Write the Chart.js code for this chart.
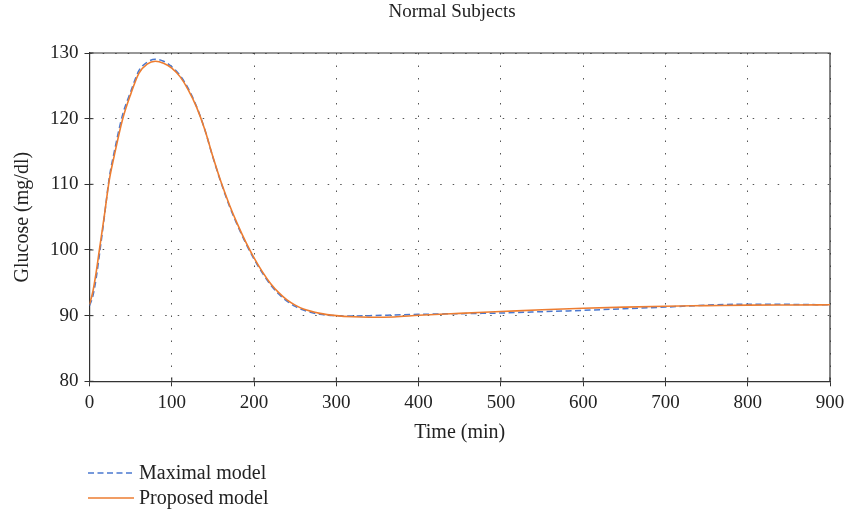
<!DOCTYPE html>
<html>
<head>
<meta charset="utf-8">
<script src="https://cdn.jsdelivr.net/npm/chart.js@4.4.1/dist/chart.umd.min.js"></script>
<style>
  body { margin: 0; background: #fff; }
  #wrap { position: relative; width: 851px; height: 513px; }
  #legend { position: absolute; left: 88px; top: 460px; font-family: "Liberation Serif", serif; font-size: 20px; color: #222; }
  #legend .row { display: flex; align-items: center; height: 25px; }
  #legend svg { margin-right: 5px; }
</style>
</head>
<body>
<div id="wrap">
  <canvas id="chart" width="851" height="513"></canvas>
  <div id="legend">
    <div class="row"><svg width="46" height="6"><line x1="0" y1="3" x2="46" y2="3" stroke="#4a78cf" stroke-width="1.5" stroke-dasharray="6 3.5"/></svg>Maximal model</div>
    <div class="row"><svg width="46" height="6"><line x1="0" y1="3" x2="46" y2="3" stroke="#ed7d31" stroke-width="1.5"/></svg>Proposed model</div>
  </div>
</div>
<script>
const TITLE = "Normal Subjects";
const X_TITLE = "Time (min)";
const Y_TITLE = "Glucose (mg/dl)";

// time points (min)
const times = [0, 4, 8, 12, 18, 24, 30, 40, 50, 60, 70, 80, 90, 100, 110, 120, 130, 140, 150, 160,
  170, 180, 190, 200, 210, 220, 230, 240, 250, 260, 280, 300, 320, 340, 370, 400, 450, 500, 550,
  600, 650, 700, 750, 800, 850, 900];

const maximalModel = [91.5, 92.9, 95.6, 99.2, 105.0, 111.0, 114.9, 120.5, 124.1, 127.3, 128.6, 129.05,
  128.75, 127.9, 126.6, 124.6, 121.9, 118.4, 114.1, 110.2, 106.7, 103.7, 101.0, 98.6, 96.5, 94.7,
  93.3, 92.2, 91.4, 90.85, 90.2, 90.0, 89.95, 90.0, 90.1, 90.2, 90.3, 90.4, 90.6, 90.8, 91.05,
  91.3, 91.6, 91.75, 91.72, 91.65];

const proposedModel = [91.7, 93.6, 96.5, 100.0, 105.2, 110.6, 114.3, 119.8, 123.7, 126.9, 128.3, 128.75,
  128.45, 127.7, 126.4, 124.4, 121.8, 118.4, 114.2, 110.3, 106.9, 103.9, 101.2, 98.8, 96.7, 94.9,
  93.5, 92.4, 91.6, 91.0, 90.35, 90.0, 89.82, 89.76, 89.8, 90.05, 90.35, 90.62, 90.9, 91.13, 91.3,
  91.44, 91.52, 91.6, 91.63, 91.65];

const xTicks = [0, 100, 200, 300, 400, 500, 600, 700, 800, 900];
const yTicks = [80, 90, 100, 110, 120, 130];

const FONT = "'Liberation Serif', 'Times New Roman', serif";
const AXIS_COLOR = "#333";

const toPoints = (vals) => vals.map((v, i) => ({ x: times[i], y: v }));

// top/right frame, inward tick marks and the title
const framePlugin = {
  id: "frame",
  beforeDatasetsDraw(chart) {
    const { ctx, chartArea: a, scales } = chart;
    ctx.save();
    ctx.strokeStyle = AXIS_COLOR;
    ctx.lineWidth = 1.2;
    ctx.beginPath();
    ctx.moveTo(a.left, a.top);
    ctx.lineTo(a.right, a.top);
    ctx.lineTo(a.right, a.bottom);
    ctx.stroke();
    ctx.lineWidth = 1;
    ctx.beginPath();
    xTicks.forEach((t) => {
      const px = scales.x.getPixelForValue(t);
      ctx.moveTo(px, a.bottom);
      ctx.lineTo(px, a.bottom - 4);
    });
    yTicks.forEach((t) => {
      const py = scales.y.getPixelForValue(t);
      ctx.moveTo(a.left, py);
      ctx.lineTo(a.left + 4, py);
    });
    ctx.stroke();
    ctx.restore();
  },
  afterDraw(chart) {
    const { ctx } = chart;
    ctx.save();
    ctx.fillStyle = "#222";
    ctx.font = `19px ${FONT}`;
    ctx.textAlign = "center";
    ctx.textBaseline = "middle";
    ctx.fillText(TITLE, 452, 12);
    ctx.restore();
  },
};

const gridOpts = {
  color: "#555",
  lineWidth: 1,
  tickLength: 5,
  tickColor: AXIS_COLOR,
  tickBorderDash: [],
  tickWidth: 1,
};
const borderOpts = { display: true, color: AXIS_COLOR, width: 1.2, dash: [1.5, 11] };

new Chart(document.getElementById("chart"), {
  type: "line",
  data: {
    datasets: [
      {
        label: "Maximal model",
        data: toPoints(maximalModel),
        borderColor: "#4a78cf",
        borderWidth: 1.5,
        borderDash: [6, 3.5],
        pointRadius: 0,
        cubicInterpolationMode: "monotone",
        order: 1,
      },
      {
        label: "Proposed model",
        data: toPoints(proposedModel),
        borderColor: "#ed7d31",
        borderWidth: 1.6,
        pointRadius: 0,
        cubicInterpolationMode: "monotone",
        order: 0,
      },
    ],
  },
  options: {
    responsive: false,
    animation: false,
    layout: { padding: { left: 0, right: 21, top: 53, bottom: 0 } },
    plugins: {
      legend: { display: false },
      title: { display: false },
      tooltip: { enabled: false },
    },
    scales: {
      x: {
        type: "linear",
        min: 0,
        max: 900,
        afterFit: (s) => { s.height = 131.7; },
        afterBuildTicks: (s) => { s.ticks = xTicks.map((v) => ({ value: v })); },
        ticks: { color: "#222", font: { family: FONT, size: 19 }, padding: 5, maxRotation: 0 },
        grid: gridOpts,
        border: borderOpts,
        title: {
          display: true,
          text: X_TITLE,
          color: "#222",
          font: { family: FONT, size: 20 },
          padding: { top: 0, bottom: 68 },
        },
      },
      y: {
        min: 80,
        max: 130,
        afterFit: (s) => { s.width = 89.5; },
        afterBuildTicks: (s) => { s.ticks = yTicks.map((v) => ({ value: v })); },
        ticks: { color: "#222", font: { family: FONT, size: 19 }, padding: 6 },
        grid: gridOpts,
        border: borderOpts,
        title: {
          display: true,
          text: Y_TITLE,
          color: "#222",
          font: { family: FONT, size: 20 },
          padding: { top: 11, bottom: 0 },
        },
      },
    },
  },
  plugins: [framePlugin],
});
</script>
</body>
</html>
